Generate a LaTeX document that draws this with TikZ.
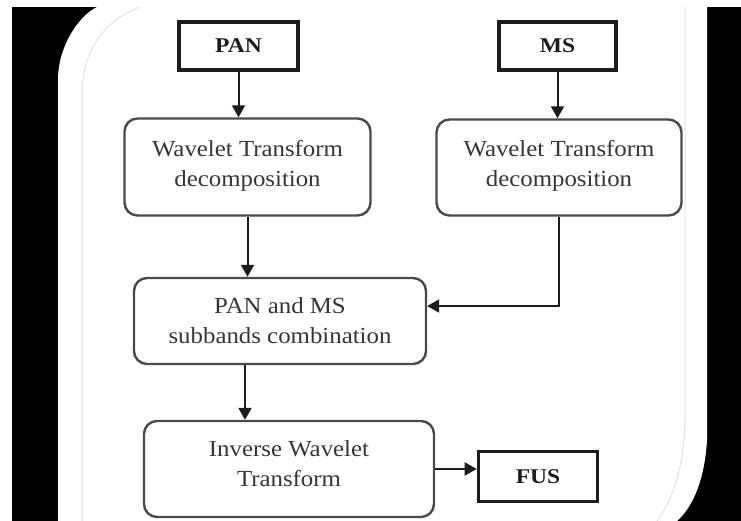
\documentclass[tikz,border=0pt]{standalone}
\usepackage{fontspec}
\setmainfont{Liberation Serif}
\newfontfamily\boxfont[FakeStretch=1.08]{Liberation Serif}
\newfontfamily\labfont[FakeStretch=1.12]{Liberation Serif}
\usetikzlibrary{arrows.meta,calc}
\definecolor{boxline}{HTML}{4A4A4A}
\definecolor{txt}{HTML}{363636}
\definecolor{dark}{HTML}{1C1C1C}
\definecolor{faint}{HTML}{E2E2E2}
\newcommand\lowpad[1]{\rule[-#1]{0pt}{0pt}}
\tikzset{
  roundbox/.style={draw=boxline, line width=2.4pt, rounded corners=13pt, fill=white,
    align=center, text=txt, inner sep=0pt, font=\boxfont\fontsize{23}{30}\selectfont},
  labelbox/.style={draw=dark, line width=3.6pt, fill=white, inner sep=0pt,
    text=dark, font=\labfont\fontsize{21}{24}\selectfont\bfseries},
  arr/.style={draw=dark, line width=2pt, -{Triangle[length=12pt,width=13pt]}}
}
\begin{document}
\begin{tikzpicture}[x=1pt,y=-1pt]
\useasboundingbox (0,0) rectangle (741,521);
% background frame
\fill[white] (0,0) rectangle (741,521);
\fill[black] (12,7) rectangle (741,521);
\fill[white] (58,521) -- (58,80) .. controls (58,45) and (80,15) .. (97,7)
  -- (707,7) -- (707,440) .. controls (705,475) and (695,505) .. (677,521) -- cycle;
\draw[faint, line width=1pt] (82,521) -- (82,95) .. controls (82,50) and (105,20) .. (140,7);
\draw[faint, line width=1pt] (685,7) -- (685,420) .. controls (684,470) and (672,500) .. (657,521);
% nodes
\node[labelbox, minimum width=119pt, minimum height=48pt] (pan) at (238.5,46) {PAN};
\node[labelbox, minimum width=117pt, minimum height=48pt] (ms) at (557.5,46) {MS};
\node[roundbox, minimum width=246pt, minimum height=97pt] (wtl) at (247.5,167) {Wavelet Transform\\decomposition\lowpad{8pt}};
\node[roundbox, minimum width=245pt, minimum height=96pt] (wtr) at (559,167.5) {Wavelet Transform\\decomposition\lowpad{8pt}};
\node[roundbox, minimum width=292pt, minimum height=86pt] (comb) at (280,321) {PAN and MS\\subbands combination};
\node[roundbox, minimum width=290pt, minimum height=96pt] (inv) at (289,469) {Inverse Wavelet\\Transform\lowpad{10pt}};
\node[labelbox, minimum width=119pt, minimum height=50pt] (fus) at (538,476.5) {FUS};
% connectors
\draw[arr] (pan.south) -- (pan.south |- wtl.north);
\draw[arr] (ms.south) -- (ms.south |- wtr.north);
\draw[arr] (wtl.south) -- (wtl.south |- comb.north);
\draw[arr] (wtr.south) |- ([yshift=15pt]comb.east);
\draw[arr] ([xshift=-35pt]comb.south) -- ([xshift=-35pt]comb.south |- inv.north);
\draw[arr] (inv.east) -- (inv.east -| fus.west);
\end{tikzpicture}
\end{document}
